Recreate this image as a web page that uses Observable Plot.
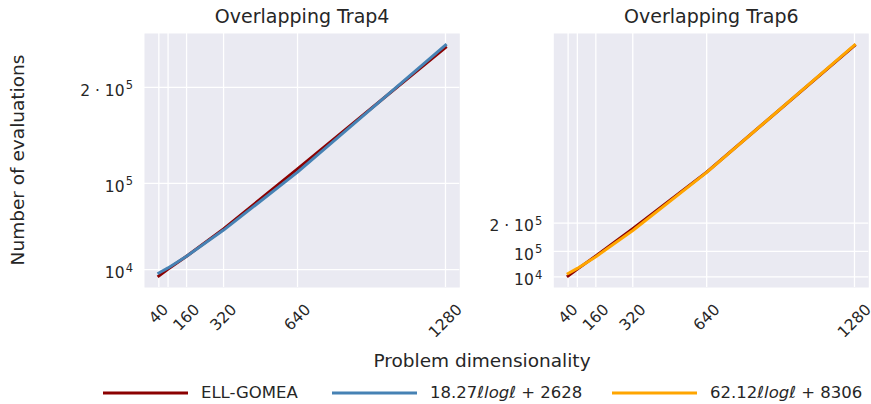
<!DOCTYPE html>
<html><head><meta charset="utf-8">
<script src="https://cdn.jsdelivr.net/npm/d3@7"></script>
<script src="https://cdn.jsdelivr.net/npm/@observablehq/plot@0.6"></script>
<style>
html,body{margin:0;padding:0;background:#fff;}
#fig{position:relative;width:871px;height:404px;overflow:hidden;font-family:"DejaVu Sans",sans-serif;color:#262626;}
#fig svg{position:absolute;top:0;}
</style></head><body><div id="fig"></div>
<script>
// ---- data ----
const dims = [40, 80, 160, 320, 640, 1280];
const xTickValues = [40, 160, 320, 640, 1280];
const xTickLabels = ["40", "160", "320", "640", "1280"];
const xGridValues = [40, 80, 160, 320, 640, 1280];
const yTickValues = [1e4, 1e5, 2e5];
const yTickBase = ["10", "10", "2 · 10"];
const yTickExp = ["4", "5", "5"];
const titles = ["Overlapping Trap4", "Overlapping Trap6"];
const ellGomeaTrap4 = [3500, 10800, 24000, 52500, 115000, 241500];
const fitTrap4 = [6517, 11868, 24032, 51282, 111627, 244011];
const ellGomeaTrap6 = [13000, 37000, 84000, 180000, 380000, 827000];
const fitTrap6 = [21530, 39723, 81080, 173732, 378914, 829035];
const seriesNames = ["ELL-GOMEA", "18.27ℓlogℓ + 2628", "62.12ℓlogℓ + 8306"];
const seriesColors = ["#8B0000", "#4682B4", "#FFA500"];
const xLabel = "Problem dimensionality";
const yLabel = "Number of evaluations";

// ---- helpers ----
const TEXT = "#262626";
const BG = "#EAEAF2";
function pad(vals) { const [a, b] = d3.extent(vals); const r = b - a; return [a - 0.05 * r, b + 0.05 * r]; }

function panel({title, ell, fit, fitColor, left, width, marginLeft, marginRight}) {
  const rows = s => dims.map((d, i) => ({x: d, y: s[i]}));
  const tickFs = 15.5;
  const xLabelMarks = xTickValues.map((v, i) => {
    const lab = xTickLabels[i];
    const w = lab.length * 0.636 * tickFs, h = 0.73 * tickFs;
    const half = (w + h) * Math.SQRT1_2 / 2;
    return Plot.text([v], {x: d => d, frameAnchor: "bottom", text: () => lab, rotate: -45,
      textAnchor: "middle", lineAnchor: "middle", dy: 15.5 + half, fontSize: tickFs, fill: TEXT});
  });
  const svg = Plot.plot({
    width, height: 345, marginLeft, marginRight, marginTop: 33, marginBottom: 58,
    style: {background: "white", fontFamily: "DejaVu Sans", overflow: "visible"},
    x: {domain: pad(dims), axis: null},
    y: {domain: pad([...ell, ...fit]), axis: null},
    marks: [
      Plot.frame({fill: BG, stroke: null}),
      Plot.ruleX(xGridValues, {x: d => d, stroke: "white", strokeWidth: 1.3}),
      Plot.ruleY(yTickValues, {y: d => d, stroke: "white", strokeWidth: 1.3}),
      Plot.line(rows(ell), {x: "x", y: "y", stroke: seriesColors[0], strokeWidth: 3, strokeLinecap: "square"}),
      Plot.line(rows(fit), {x: "x", y: "y", stroke: fitColor, strokeWidth: 3, strokeLinecap: "square"}),
      Plot.text(yTickValues, {y: d => d, frameAnchor: "left", text: (d, i) => yTickBase[i],
        textAnchor: "end", lineAnchor: "bottom", dx: -20, dy: 8.3, fontSize: tickFs, fill: TEXT}),
      Plot.text(yTickValues, {y: d => d, frameAnchor: "left", text: (d, i) => yTickExp[i],
        textAnchor: "end", lineAnchor: "bottom", dx: -11.5, dy: 1.8, fontSize: 11.5, fill: TEXT}),
      ...xLabelMarks,
      Plot.text([title], {frameAnchor: "top", text: d => d, lineAnchor: "bottom", dy: -10.3, fontSize: 19, fill: TEXT})
    ]
  });
  svg.style.left = left + "px";
  return svg;
}

const fig = document.getElementById("fig");
fig.appendChild(panel({title: titles[0], ell: ellGomeaTrap4, fit: fitTrap4, fitColor: seriesColors[1],
  left: 0, width: 470, marginLeft: 144, marginRight: 10.7}));
fig.appendChild(panel({title: titles[1], ell: ellGomeaTrap6, fit: fitTrap6, fitColor: seriesColors[2],
  left: 470, width: 401, marginLeft: 83.3, marginRight: 2.7}));

// ---- overlay: axis labels + legend ----
const ov = d3.create("svg").attr("width", 871).attr("height", 404)
  .style("left", "0px").style("pointer-events", "none")
  .style("font-family", "DejaVu Sans").style("overflow", "visible");
ov.append("text").attr("transform", "translate(24,160) rotate(-90)").attr("text-anchor", "middle")
  .attr("font-size", 18.5).attr("fill", TEXT).text(yLabel);
ov.append("text").attr("x", 482).attr("y", 366.5).attr("text-anchor", "middle")
  .attr("font-size", 18.5).attr("fill", TEXT).text(xLabel);
const legendX = [103, 332, 612];
seriesNames.forEach((name, i) => {
  const x0 = legendX[i];
  ov.append("line").attr("x1", x0).attr("x2", x0 + 85).attr("y1", 393).attr("y2", 393)
    .attr("stroke", seriesColors[i]).attr("stroke-width", 3);
  const t = ov.append("text").attr("x", x0 + 98).attr("y", 398.3).attr("font-size", 16.5)
    .attr("fill", TEXT).style("white-space", "pre");
  const m = name.match(/^(.*?)(ℓlogℓ)(.*)$/);
  if (m) {
    t.append("tspan").text(m[1]);
    t.append("tspan").attr("font-style", "italic").text(m[2]);
    t.append("tspan").text(m[3]);
  } else t.text(name);
});
fig.appendChild(ov.node());
</script></body></html>
